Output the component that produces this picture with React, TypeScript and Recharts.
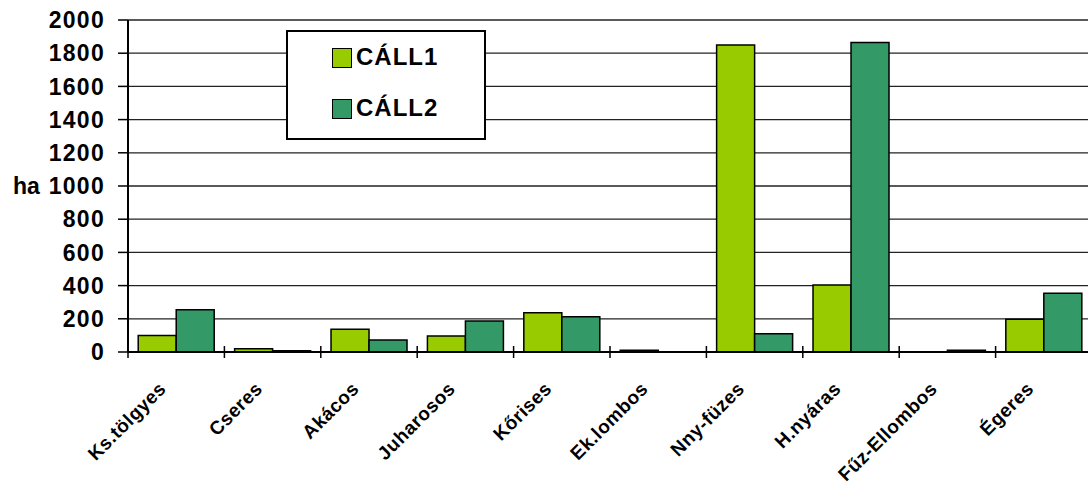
import { BarChart, Bar, XAxis, YAxis, CartesianGrid, Legend } from 'recharts';

const categories = ['Ks.tölgyes', 'Cseres', 'Akácos', 'Juharosos', 'Kőrises', 'Ek.lombos', 'Nny-füzes', 'H.nyáras', 'Fűz-Ellombos', 'Égeres'];
const call1 = [100, 20, 137, 97, 237, 10, 1849, 404, 1, 197];
const call2 = [255, 8, 72, 187, 213, 2, 110, 1864, 10, 354];
const yTicks = [0, 200, 400, 600, 800, 1000, 1200, 1400, 1600, 1800, 2000];

const data = categories.map((name, i) => ({ name, 'CÁLL1': call1[i], 'CÁLL2': call2[i] }));

const FONT = '"Liberation Sans", Arial, sans-serif';

function XTick(props: any) {
  const { x, y, payload, index } = props;
  const half = payload.offset ?? 48.2;
  const tx = x - 9;
  const ty = y + 38;
  return (
    <g>
      <line x1={x - half} x2={x - half} y1={y - 6} y2={y + 6} stroke="#000" strokeWidth={1.5} />
      {index === categories.length - 1 && (
        <line x1={x + half} x2={x + half} y1={y - 6} y2={y + 6} stroke="#000" strokeWidth={1.5} />
      )}
      <text x={tx} y={ty} textAnchor="end" transform={`rotate(-45 ${tx} ${ty})`}
        fontFamily={FONT} fontWeight="bold" fontSize={19} letterSpacing={0.5} fill="#000">
        {payload.value}
      </text>
    </g>
  );
}

function LegendBox(props: any) {
  const { payload } = props;
  return (
    <div style={{ fontFamily: FONT, fontWeight: 'bold', fontSize: 24, letterSpacing: 1 }}>
      {payload.map((p: any) => (
        <div key={p.value} style={{ display: 'flex', alignItems: 'center', height: 51, marginLeft: 44 }}>
          <span style={{ width: 18, height: 18, background: p.color, border: '1.5px solid #000', marginRight: 4 }} />
          <span style={{ lineHeight: '24px', marginTop: -2 }}>{p.value}</span>
        </div>
      ))}
    </div>
  );
}

export default function App() {
  return (
    <div style={{ position: 'absolute', left: 0, top: 0, width: 1088, height: 488, overflow: 'hidden', background: '#fff' }}>
      <BarChart width={1096} height={488} data={data} margin={{ top: 20, right: 4, bottom: 0, left: 0 }}
        barCategoryGap="10.6%" barGap={0}>
        <CartesianGrid vertical={false} stroke="#222" strokeWidth={1.3} />
        <XAxis dataKey="name" height={136} interval={0} tickLine={false} tickSize={0} tickMargin={0}
          axisLine={{ stroke: '#000', strokeWidth: 2 }} tick={<XTick />} />
        <YAxis width={128} domain={[0, 2000]} ticks={yTicks} interval={0} tickSize={10} tickMargin={13}
          axisLine={{ stroke: '#000', strokeWidth: 2 }} tickLine={{ stroke: '#000', strokeWidth: 1.5 }}
          tick={{ fill: '#000', fontFamily: FONT, fontWeight: 'bold', fontSize: 23, letterSpacing: 1.3 }}
          label={{ value: 'ha', position: 'insideLeft', offset: 13, fill: '#000', fontFamily: FONT, fontWeight: 'bold', fontSize: 23 }} />
        <Legend layout="vertical" align="center" verticalAlign="middle" content={<LegendBox />}
          wrapperStyle={{ position: 'absolute', left: 286, top: 30, width: 196, height: 106, border: '2px solid #000', background: '#fff' }} />
        <Bar dataKey="CÁLL1" fill="#99CC00" stroke="#000" strokeWidth={1.5} isAnimationActive={false} />
        <Bar dataKey="CÁLL2" fill="#339966" stroke="#000" strokeWidth={1.5} isAnimationActive={false} />
      </BarChart>
    </div>
  );
}
